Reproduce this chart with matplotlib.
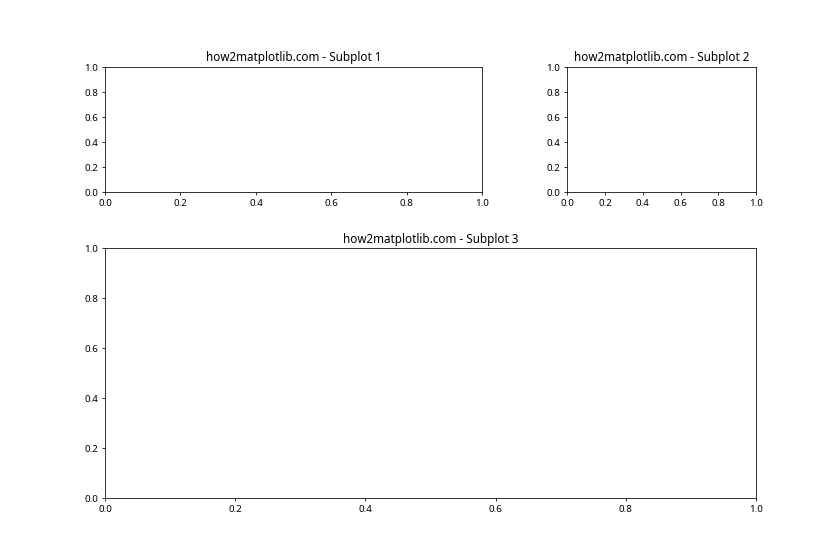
import matplotlib
matplotlib.use("Agg")
import matplotlib.pyplot as plt
from matplotlib.gridspec import GridSpec

plt.rcParams['font.family'] = ['Noto Sans', 'DejaVu Sans']

titles = ['how2matplotlib.com - Subplot 1',
          'how2matplotlib.com - Subplot 2',
          'how2matplotlib.com - Subplot 3']
ticks = [0.0, 0.2, 0.4, 0.6, 0.8, 1.0]

# 12x8 inches at 70 dpi -> 840x560
fig = plt.figure(figsize=(12, 8), dpi=70)
gs = GridSpec(2, 2, figure=fig, width_ratios=[2, 1], height_ratios=[1, 2],
              wspace=0.3, hspace=0.3)

ax1 = fig.add_subplot(gs[0, 0])
ax2 = fig.add_subplot(gs[0, 1])
ax3 = fig.add_subplot(gs[1, :])

for ax, t in zip([ax1, ax2, ax3], titles):
    ax.set_title(t)
    ax.set_xticks(ticks)
    ax.set_yticks(ticks)

fig.savefig('out.png', dpi=70)
